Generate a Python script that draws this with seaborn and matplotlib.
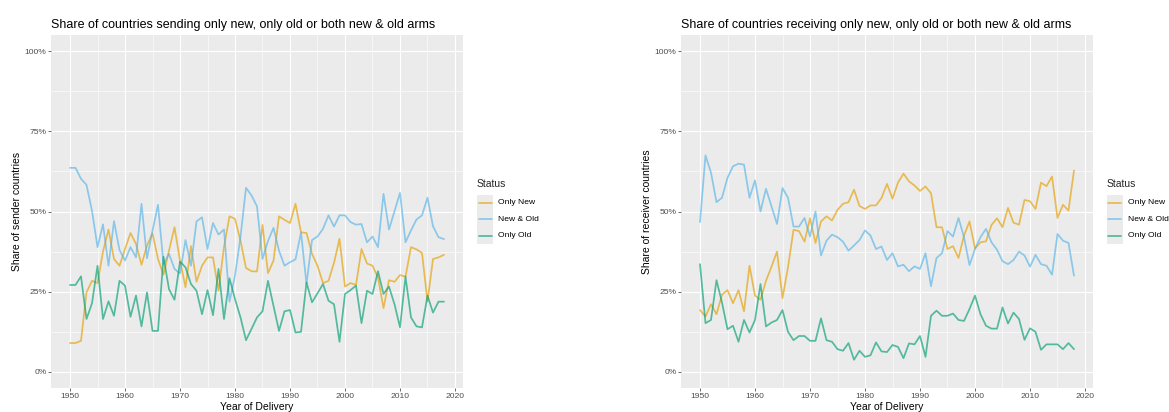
import matplotlib
matplotlib.use("Agg")
import matplotlib.pyplot as plt
from matplotlib.lines import Line2D
from matplotlib.patches import Rectangle
from matplotlib.ticker import MultipleLocator, FixedLocator, PercentFormatter
import pandas as pd
import seaborn as sns

# ---------------------------------------------------------------- data
years = list(range(1950, 2019))

status_order = ["Only New", "New & Old", "Only Old"]
status_colors = ["#E69F00", "#56B4E9", "#009E73"]

# share of sender countries (%)
sender_only_new = [
    9.0, 9.0, 9.7, 24.8, 28.4, 27.7, 37.5, 44.4, 35.2, 33.1,
    38.3, 43.3, 39.9, 33.4, 39.4, 43.2, 35.2, 30.3, 37.8, 45.1,
    34.7, 26.4, 39.2, 28.1, 33.1, 35.7, 35.7, 25.3, 39.0, 48.5,
    47.7, 40.9, 32.4, 31.4, 31.3, 45.8, 30.8, 34.7, 48.5, 47.4,
    46.4, 52.4, 43.5, 43.3, 36.8, 33.1, 27.7, 28.4, 34.0, 41.5,
    26.6, 27.7, 27.1, 38.3, 33.8, 33.1, 29.4, 19.9, 28.6, 28.1,
    30.2, 29.7, 38.9, 38.2, 37.1, 21.9, 35.2, 35.7, 36.5,
]
sender_new_old = [
    63.6, 63.6, 60.2, 58.3, 50.2, 38.9, 46.0, 33.1, 47.0, 38.0,
    34.7, 38.9, 35.7, 52.4, 35.4, 44.0, 52.1, 33.6, 36.8, 32.1,
    30.7, 41.1, 33.1, 46.9, 48.2, 38.3, 46.4, 42.8, 44.4, 21.9,
    30.0, 42.1, 57.4, 55.0, 51.6, 35.2, 40.8, 44.9, 37.8, 33.1,
    34.2, 35.1, 43.5, 27.4, 41.1, 42.2, 44.6, 48.8, 45.3, 48.8,
    48.8, 46.7, 45.9, 46.1, 40.4, 42.2, 38.9, 55.5, 44.4, 50.1,
    55.8, 40.4, 44.1, 47.5, 48.8, 54.3, 45.4, 42.0, 41.4,
]
sender_only_old = [
    27.1, 27.1, 29.8, 16.5, 21.4, 33.1, 16.5, 22.0, 17.5, 28.4,
    26.9, 17.2, 23.8, 14.2, 24.8, 12.8, 12.8, 35.9, 25.8, 22.5,
    34.4, 32.6, 27.4, 25.3, 18.0, 25.5, 17.7, 32.1, 16.5, 29.2,
    22.7, 17.0, 9.9, 13.4, 17.0, 18.9, 28.4, 20.6, 12.8, 18.9,
    19.3, 12.3, 12.5, 27.9, 21.7, 24.5, 27.4, 22.2, 21.1, 9.4,
    24.3, 25.5, 26.9, 15.2, 25.3, 24.3, 31.4, 24.3, 26.6, 21.1,
    13.9, 29.7, 17.0, 14.2, 13.9, 23.8, 18.5, 21.9, 21.9,
]

# share of receiver countries (%)
receiver_only_new = [
    19.3, 17.3, 21.1, 18.0, 24.1, 25.5, 21.4, 25.5, 18.9, 33.1,
    23.8, 22.5, 28.4, 32.8, 37.5, 23.0, 32.6, 44.3, 43.9, 40.6,
    47.9, 40.2, 46.9, 48.5, 47.2, 50.5, 52.4, 52.9, 56.8, 51.7,
    50.8, 51.9, 51.9, 54.2, 58.6, 54.0, 59.0, 61.8, 59.4, 58.1,
    56.4, 57.8, 55.7, 45.1, 45.1, 38.3, 39.2, 35.5, 42.5, 46.9,
    38.5, 40.4, 40.7, 45.8, 47.9, 45.1, 51.1, 46.5, 45.9, 53.6,
    53.2, 50.8, 59.0, 57.9, 60.9, 48.0, 52.1, 50.3, 62.8,
]
receiver_new_old = [
    46.7, 67.5, 62.1, 52.9, 54.3, 60.5, 64.1, 64.9, 64.6, 54.3,
    59.7, 50.0, 57.1, 51.6, 46.1, 57.3, 54.3, 45.3, 45.3, 48.0,
    42.2, 50.0, 36.3, 40.9, 42.8, 42.0, 40.6, 37.8, 39.4, 41.1,
    44.1, 42.5, 38.3, 39.1, 34.9, 37.0, 32.9, 33.4, 31.4, 32.9,
    32.1, 37.0, 26.7, 35.5, 37.0, 43.9, 42.2, 48.0, 42.0, 33.3,
    38.3, 42.0, 44.6, 40.4, 38.1, 34.5, 33.6, 34.9, 37.5, 36.3,
    32.8, 36.5, 33.6, 33.1, 30.3, 43.0, 40.9, 40.2, 30.0,
]
receiver_only_old = [
    33.6, 15.2, 16.2, 28.6, 21.6, 13.3, 14.4, 9.4, 16.2, 12.3,
    16.2, 27.4, 14.2, 15.4, 16.2, 19.3, 12.5, 9.9, 11.2, 11.2,
    9.7, 9.7, 16.7, 9.9, 9.4, 7.1, 6.6, 9.0, 3.8, 6.6,
    4.7, 5.2, 9.2, 6.4, 6.2, 8.4, 7.8, 4.3, 8.9, 8.6,
    11.2, 4.7, 17.5, 19.1, 17.5, 17.5, 18.2, 16.2, 15.9, 19.6,
    23.8, 18.0, 14.4, 13.5, 13.5, 20.1, 15.1, 18.5, 16.5, 10.0,
    13.6, 12.5, 6.9, 8.6, 8.6, 8.6, 7.1, 9.0, 7.1,
]

panel_titles = [
    "Share of countries sending only new, only old or both new & old arms",
    "Share of countries receiving only new, only old or both new & old arms",
]
panel_ylabels = ["Share of sender countries", "Share of receiver countries"]
x_label = "Year of Delivery"
legend_title = "Status"


def long_frame(only_new, new_old, only_old):
    parts = []
    for status, vals in zip(status_order, [only_new, new_old, only_old]):
        parts.append(pd.DataFrame({"Year": years, "Share": vals, "Status": status}))
    return pd.concat(parts, ignore_index=True)


frames = [
    long_frame(sender_only_new, sender_new_old, sender_only_old),
    long_frame(receiver_only_new, receiver_new_old, receiver_only_old),
]

# ---------------------------------------------------------------- style
sns.set_style("darkgrid", {"axes.facecolor": "#EBEBEB", "grid.color": "white"})
plt.rcParams["font.family"] = ["Liberation Sans", "DejaVu Sans"]

W, H = 1169, 412
fig = plt.figure(figsize=(W / 100, H / 100), dpi=100)
fig.patch.set_facecolor("white")

panel_left = [51.3, 681.3]
panel_w = 411.4
panel_top, panel_bottom = 35.0, 388.0
palette = dict(zip(status_order, status_colors))

for i, df in enumerate(frames):
    ax = fig.add_axes([panel_left[i] / W, (H - panel_bottom) / H,
                       panel_w / W, (panel_bottom - panel_top) / H])
    sns.lineplot(data=df, x="Year", y="Share", hue="Status",
                 hue_order=status_order, palette=palette,
                 linewidth=1.25, alpha=0.65, legend=False, ax=ax)
    ax.set_facecolor("#EBEBEB")
    for s in ax.spines.values():
        s.set_visible(False)

    ax.set_xlim(1950 - 0.05 * 68, 2018 + 0.05 * 68)
    ax.set_ylim(-5, 105)
    ax.xaxis.set_major_locator(MultipleLocator(10))
    ax.xaxis.set_minor_locator(FixedLocator(list(range(1955, 2020, 10))))
    ax.yaxis.set_major_locator(MultipleLocator(25))
    ax.yaxis.set_minor_locator(FixedLocator([12.5, 37.5, 62.5, 87.5]))
    ax.yaxis.set_major_formatter(PercentFormatter(100, decimals=0))

    ax.grid(which="major", color="white", linewidth=0.85)
    ax.grid(which="minor", color="white", linewidth=0.4)
    ax.set_axisbelow(True)
    ax.tick_params(which="major", length=2.0, width=0.5, color="#333333",
                   labelsize=6.1, labelcolor="#4D4D4D", pad=1.5,
                   bottom=True, left=True)
    ax.tick_params(which="minor", length=0)

    ax.set_title(panel_titles[i], loc="left", fontsize=9.0, pad=5, color="black")
    ax.set_xlabel(x_label, fontsize=7.5, labelpad=1.2, color="black")
    ax.set_ylabel(panel_ylabels[i], fontsize=7.5, labelpad=1.8, color="black")

    # legend beside the panel
    lx = panel_left[i] + panel_w + 14.3
    fig.text(lx / W, 1 - 184 / H, legend_title, fontsize=7.5,
             va="center", ha="left")
    fig.patches.append(Rectangle((lx / W, 1 - 244 / H), 16 / W, 49 / H,
                                 transform=fig.transFigure,
                                 facecolor="#EBEBEB", edgecolor="none"))
    for k, (status, color) in enumerate(zip(status_order, status_colors)):
        ky = 203 + 16.3 * k
        fig.lines.append(Line2D([(lx + 1.5) / W, (lx + 14.5) / W],
                                [1 - ky / H, 1 - ky / H],
                                transform=fig.transFigure, color=color,
                                alpha=0.65, linewidth=1.25))
        fig.text((lx + 21.5) / W, 1 - ky / H, status, fontsize=6.1,
                 va="center", ha="left", color="black")

fig.savefig("out.png", dpi=100)
